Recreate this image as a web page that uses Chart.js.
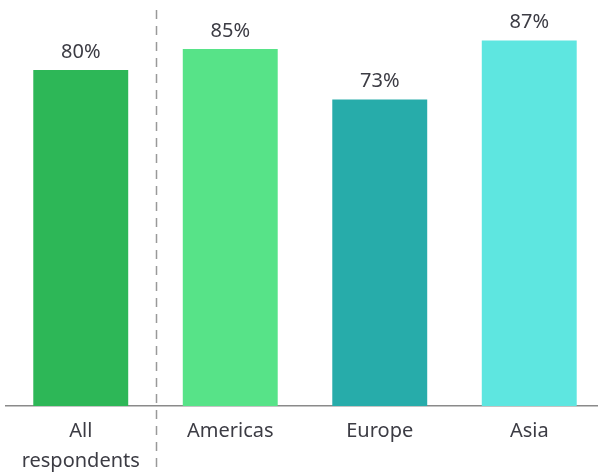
<!DOCTYPE html>
<html>
<head>
<meta charset="utf-8">
<script src="https://cdn.jsdelivr.net/npm/chart.js@4"></script>
<style>
  html, body { margin: 0; padding: 0; background: #fff; overflow: hidden; }
  .wrap { position: relative; width: 604px; height: 473px; }
</style>
</head>
<body>
<div class="wrap"><canvas id="chart"></canvas></div>
<script>
const categories = [['All', 'respondents'], 'Americas', 'Europe', 'Asia'];
const values = [80, 85, 73, 87];
const colors = ['#2db757', '#57e388', '#27acaa', '#5ee6e0'];

const textColor = '#3c3c44';
const fontFamily = "'Noto Sans', 'DejaVu Sans', sans-serif";

// value labels above each bar
const valueLabels = {
  id: 'valueLabels',
  afterDatasetsDraw(chart) {
    const { ctx } = chart;
    const meta = chart.getDatasetMeta(0);
    ctx.save();
    ctx.fillStyle = textColor;
    ctx.font = '20px ' + fontFamily;
    ctx.textAlign = 'center';
    ctx.textBaseline = 'middle';
    meta.data.forEach((bar, i) => {
      ctx.fillText(values[i] + '%', bar.x, bar.y - 18);
    });
    ctx.restore();
  }
};

// dashed divider between the first and second category
const divider = {
  id: 'divider',
  beforeDatasetsDraw(chart) {
    const { ctx, scales: { x } } = chart;
    const px = Math.round((x.getPixelForValue(0) + x.getPixelForValue(1)) / 2) + 0.5;
    ctx.save();
    ctx.strokeStyle = '#999999';
    ctx.lineWidth = 1.5;
    ctx.setLineDash([9, 7]);
    ctx.beginPath();
    ctx.moveTo(px, 10);
    ctx.lineTo(px, chart.height);
    ctx.stroke();
    ctx.restore();
  }
};

new Chart(document.getElementById('chart'), {
  type: 'bar',
  data: {
    labels: categories,
    datasets: [{
      data: values,
      backgroundColor: colors,
      borderWidth: 0,
      barPercentage: 0.635,
      categoryPercentage: 1
    }]
  },
  options: {
    responsive: true,
    maintainAspectRatio: false,
    animation: false,
    layout: { padding: { left: 6, right: 0, top: 0, bottom: 0 } },
    plugins: {
      legend: { display: false },
      tooltip: { enabled: false }
    },
    scales: {
      x: {
        grid: { display: false, drawTicks: false },
        border: { display: true, color: '#8a8a8a', width: 1.5 },
        ticks: {
          color: textColor,
          font: { size: 20, family: fontFamily, lineHeight: 1.5 },
          padding: 10
        },
        afterFit: s => { s.height = 67; }
      },
      y: {
        display: false,
        min: 0,
        max: 96.67
      }
    }
  },
  plugins: [divider, valueLabels]
});
</script>
</body>
</html>
